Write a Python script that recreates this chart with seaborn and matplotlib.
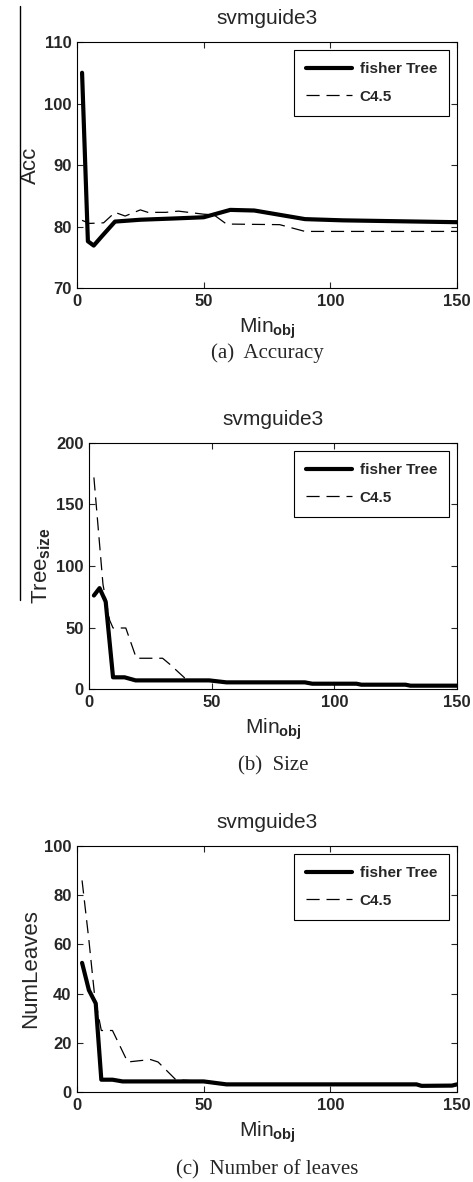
import pandas as pd
import matplotlib
matplotlib.use("Agg")
from matplotlib import pyplot as plt
from matplotlib.lines import Line2D
import seaborn as sns

# Данные (Min_obj -> значение)
acc_fisher_x = [2, 4.3, 6.6, 10, 15, 25, 38, 50, 60.5, 70, 90, 105, 120, 135, 150]
acc_fisher_y = [105, 77.6, 76.9, 78.5, 80.8, 81.1, 81.3, 81.5, 82.7, 82.6, 81.2, 81.0, 80.9, 80.8, 80.7]
acc_c45_x = [2, 5, 10.5, 15, 19, 25, 28, 35, 40, 50, 54, 59, 80, 90, 150]
acc_c45_y = [81.0, 80.5, 80.6, 82.3, 81.7, 82.7, 82.3, 82.3, 82.5, 82.0, 81.9, 80.4, 80.3, 79.2, 79.2]

size_fisher_x = [2, 4.3, 6.8, 9.8, 14.5, 19, 49, 56, 88, 91, 109, 111, 129, 131, 150]
size_fisher_y = [76, 82, 71, 9.5, 9.5, 7, 7, 5.4, 5.4, 4.3, 4.3, 3.5, 3.5, 2.7, 2.7]
size_c45_x = [2, 5.7, 8.4, 9.8, 15, 19.3, 30, 33, 39, 41, 49, 56, 88, 91, 109, 111, 129, 131, 150]
size_c45_y = [172, 85, 56, 49.6, 49.6, 25, 25, 20, 9, 7.6, 7, 5.4, 5.4, 4.3, 4.3, 3.5, 3.5, 2.7, 2.7]

leaves_fisher_x = [2, 4.7, 7.4, 9.6, 14, 18, 50, 59, 134, 136, 148, 150]
leaves_fisher_y = [52.5, 41.4, 36, 5, 5, 4.3, 4.3, 3.1, 3.1, 2.5, 2.6, 3.1]
leaves_c45_x = [2, 4.7, 7, 9.6, 14, 20, 29, 32, 39, 50, 59, 134, 136, 150]
leaves_c45_y = [86, 61.7, 38.7, 25, 25, 12.2, 13.2, 12.2, 5, 4.3, 3.1, 3.1, 2.5, 2.5]

panels = [
    ("Acc", (70, 110), [70, 80, 90, 100, 110], "(a)  Accuracy",
     acc_fisher_x, acc_fisher_y, acc_c45_x, acc_c45_y),
    ("Tree$_{\\mathbf{size}}$", (0, 200), [0, 50, 100, 150, 200], "(b)  Size",
     size_fisher_x, size_fisher_y, size_c45_x, size_c45_y),
    ("NumLeaves", (0, 100), [0, 20, 40, 60, 80, 100], "(c)  Number of leaves",
     leaves_fisher_x, leaves_fisher_y, leaves_c45_x, leaves_c45_y),
]
x_ticks = [0, 50, 100, 150]

sns.set_style("white")
plt.rcParams['font.family'] = ['Liberation Sans', 'DejaVu Sans']
plt.rcParams['mathtext.fontset'] = 'custom'
plt.rcParams['mathtext.rm'] = 'Liberation Sans'
plt.rcParams['mathtext.bf'] = 'Liberation Sans:bold'

narrow = ['Liberation Sans Narrow', 'Liberation Sans']
dash = [10.5, 5.5]

fig = plt.figure(figsize=(4.73, 11.82), dpi=100)
W, H = 473, 1182
# (left, top, right, bottom) в пикселях
boxes = [(77, 42, 457, 288), (89, 443, 457, 689), (77, 846, 457, 1092)]
caption_y = [353, 766, 1170]

for (ylab, ylim, yticks, caption, fx, fy, cx, cy), box, capy in zip(panels, boxes, caption_y):
    l, t, r, b = box
    ax = fig.add_axes([l / W, 1 - b / H, (r - l) / W, (b - t) / H])
    df = pd.concat([
        pd.DataFrame({"Min_obj": fx, "val": fy, "method": "fisher Tree"}),
        pd.DataFrame({"Min_obj": cx, "val": cy, "method": "C4.5"}),
    ])
    sns.lineplot(data=df[df.method == "fisher Tree"], x="Min_obj", y="val", ax=ax,
                 color="black", linewidth=3, label="fisher Tree", estimator=None, sort=False)
    sns.lineplot(data=df[df.method == "C4.5"], x="Min_obj", y="val", ax=ax,
                 color="black", linewidth=0.9, label="C4.5", estimator=None, sort=False)
    ax.lines[1].set_dashes(dash)
    ax.set_xlim(0, 150)
    ax.set_ylim(*ylim)
    ax.set_xticks(x_ticks)
    ax.set_yticks(yticks)
    ax.tick_params(direction="in", length=4, width=0.8, top=True, right=True,
                   bottom=True, left=True, pad=4)
    for lab in ax.get_xticklabels() + ax.get_yticklabels():
        lab.set_family(narrow)
        lab.set_fontweight("bold")
        lab.set_fontsize(12)
    for sp in ax.spines.values():
        sp.set_color("black")
        sp.set_linewidth(0.8)
    ax.set_title("svmguide3", fontsize=15, pad=13)
    ax.set_ylabel(ylab, fontsize=16, labelpad=2)
    ax.set_xlabel("Min$_{\\mathbf{obj}}$", fontsize=15, labelpad=5)
    leg = ax.legend(loc="upper right", frameon=True, fancybox=False, framealpha=1,
                    edgecolor="black", handlelength=3.0, handletextpad=0.5,
                    borderaxespad=0.5, borderpad=0.8, labelspacing=0.9,
                    prop={'family': narrow, 'weight': 'bold', 'size': 11})
    leg.get_frame().set_linewidth(0.8)
    leg.get_lines()[1].set_dashes(dash)
    fig.text((l + r) / 2 / W, 1 - capy / H, caption, ha="center", va="center",
             family=['Liberation Serif', 'DejaVu Serif'], fontsize=15)

# вертикальная линия слева
fig.add_artist(Line2D([19.5 / W, 19.5 / W], [1 - 6 / H, 1 - 600 / H],
                      color="black", linewidth=1, transform=fig.transFigure))

fig.savefig("out.png", dpi=100)
